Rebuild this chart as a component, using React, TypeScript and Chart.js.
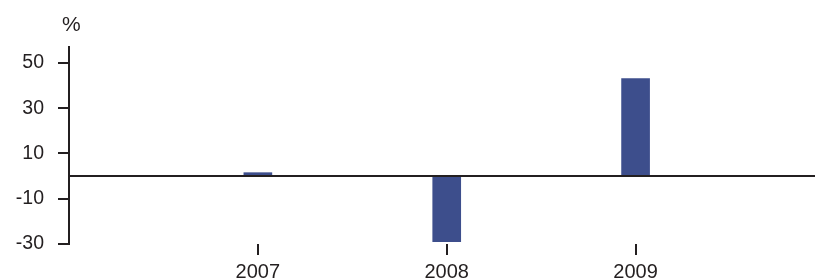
import React, { useEffect, useRef } from "react";
import { Chart, registerables } from "chart.js";

Chart.register(...registerables);

const years = [2007, 2008, 2009];
const values = [1.5, -29, 43];
const yTicks = [-30, -10, 10, 30, 50];
const unitLabel = "%";

const INK = "#231f20";
const BAR = "#3d4e8c";
const FONT = "'Liberation Sans', Arial, Helvetica, sans-serif";

const extras = {
  id: "extras",
  afterDatasetsDraw(chart: any) {
    const { ctx, chartArea, scales } = chart;
    const y0 = scales.y.getPixelForValue(0);
    ctx.save();
    ctx.strokeStyle = INK;
    ctx.lineWidth = 2;
    ctx.beginPath();
    ctx.moveTo(chartArea.left, y0);
    ctx.lineTo(chartArea.right, y0);
    ctx.stroke();
    ctx.fillStyle = INK;
    ctx.font = `21px ${FONT}`;
    ctx.textAlign = "left";
    ctx.textBaseline = "alphabetic";
    ctx.fillText(unitLabel, 62, 31);
    ctx.restore();
  },
};

export default function App() {
  const ref = useRef<HTMLCanvasElement>(null);
  useEffect(() => {
    if (!ref.current) return;
    const chart = new Chart(ref.current, {
      type: "bar",
      data: {
        datasets: [
          {
            data: years.map((x, i) => ({ x, y: values[i] })),
            backgroundColor: BAR,
            borderWidth: 0,
            barThickness: 28,
          },
        ],
      },
      options: {
        responsive: false,
        animation: false,
        layout: { padding: { top: 47, left: 0, right: 0, bottom: 0 } },
        plugins: { legend: { display: false }, tooltip: { enabled: false }, title: { display: false } },
        scales: {
          x: {
            type: "linear",
            offset: false,
            min: 2006,
            max: 2009.95,
            afterBuildTicks: (s: any) => {
              s.ticks = years.map((v) => ({ value: v }));
            },
            afterFit: (s: any) => {
              s.height = 35;
            },
            grid: { display: true, offset: false, drawOnChartArea: false, drawTicks: true, tickLength: 11, color: INK, lineWidth: 2 },
            border: { display: false },
            ticks: {
              padding: 5.5,
              color: INK,
              font: { family: FONT, size: 20 },
              maxRotation: 0,
              callback: (v: any) => String(v),
            },
          },
          y: {
            min: -30,
            max: 57,
            afterBuildTicks: (s: any) => {
              s.ticks = yTicks.map((v) => ({ value: v }));
            },
            afterFit: (s: any) => {
              s.width = 69;
            },
            grid: { display: true, drawOnChartArea: false, drawTicks: true, tickLength: 11, color: INK, lineWidth: 2 },
            border: { display: true, color: INK, width: 2 },
            ticks: {
              padding: 14,
              color: INK,
              font: { family: FONT, size: 19.5 },
              callback: (v: any) => String(v),
            },
          },
        },
      },
      plugins: [extras],
    } as any);
    return () => chart.destroy();
  }, []);
  return (
    <div style={{ position: "fixed", left: 0, top: 0, width: 815, height: 279 }}>
      <canvas ref={ref} width={815} height={279} style={{ display: "block" }} />
    </div>
  );
}
